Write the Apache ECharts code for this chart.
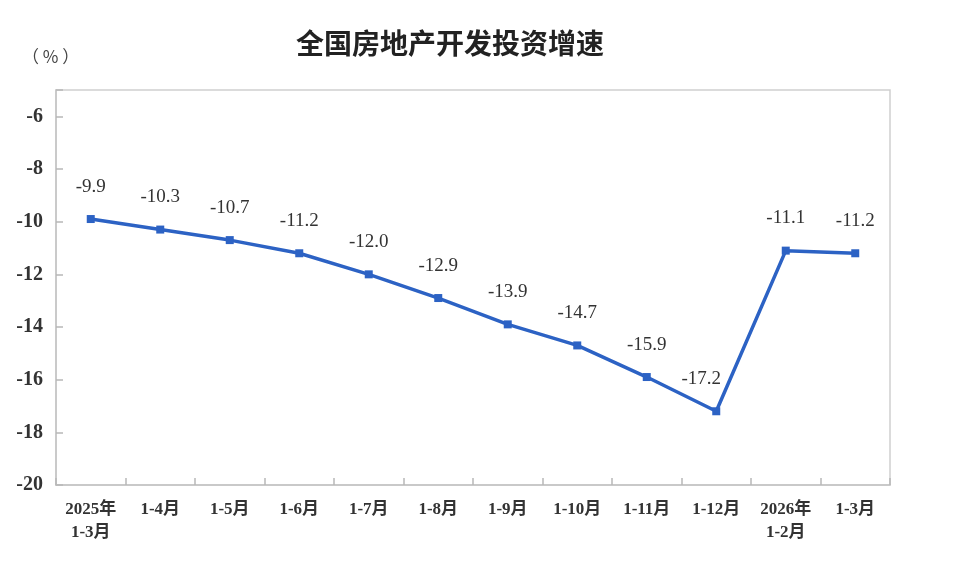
<!DOCTYPE html>
<html><head><meta charset="utf-8">
<script src="https://cdn.jsdelivr.net/npm/echarts@6/dist/echarts.min.js"></script>
<style>html,body{margin:0;padding:0;background:#fff}#c{width:962px;height:570px}</style>
</head><body><div id="c"></div>
<script>
const categories = ['2025年\n1-3月','1-4月','1-5月','1-6月','1-7月','1-8月','1-9月','1-10月','1-11月','1-12月','2026年\n1-2月','1-3月'];
const growth = [-9.9,-10.3,-10.7,-11.2,-12.0,-12.9,-13.9,-14.7,-15.9,-17.2,-11.1,-11.2];
const titleText = '全国房地产开发投资增速';
const unitText = '（ % ）';

const chart = echarts.init(document.getElementById('c'));
const serif = '"Liberation Serif","DejaVu Serif","Noto Sans CJK SC",serif';
chart.setOption({
  backgroundColor:'#fff',
  animation:false,
  title:{text:titleText,left:445,top:24,textAlign:'center',textStyle:{fontFamily:'"Noto Sans CJK SC",sans-serif',fontSize:28,fontWeight:'bold',color:'#222'}},
  graphic:[{type:'text',left:22,top:48,style:{text:unitText,font:'17px "Noto Sans CJK SC",sans-serif',fill:'#444'}}],
  grid:{left:56,right:72,top:90,bottom:85,show:true,borderColor:'#cfcfcf',borderWidth:1.5,containLabel:false},
  xAxis:{type:'category',data:categories,boundaryGap:true,
    axisLine:{lineStyle:{color:'#c4c4c4',width:1.5}},
    axisTick:{show:true,inside:true,length:7,lineStyle:{color:'#b8b8b8',width:1.5}},
    axisLabel:{interval:0,margin:13,fontFamily:serif,fontSize:17,fontWeight:'bold',color:'#333',lineHeight:23}},
  yAxis:{type:'value',min:-20,max:-5,interval:2,
    splitLine:{show:false},
    axisLine:{show:true,lineStyle:{color:'#c4c4c4',width:1.5}},
    axisTick:{show:true,inside:true,length:7,lineStyle:{color:'#b8b8b8',width:1.5}},
    axisLabel:{margin:13,fontFamily:serif,fontSize:20,color:'#333',fontWeight:'bold',formatter:v=>v===-5?'':String(v)}},
  series:[{type:'line',data:growth.map((v,i)=>i===9?{value:v,label:{offset:[-15,0]}}:v),
    symbol:'rect',symbolSize:8,
    lineStyle:{color:'#2c62c4',width:3.5},
    itemStyle:{color:'#2c62c4'},
    label:{show:true,position:'top',distance:19,fontFamily:serif,fontSize:19,color:'#333',formatter:p=>p.value.toFixed(1)}}]
});
</script></body></html>
